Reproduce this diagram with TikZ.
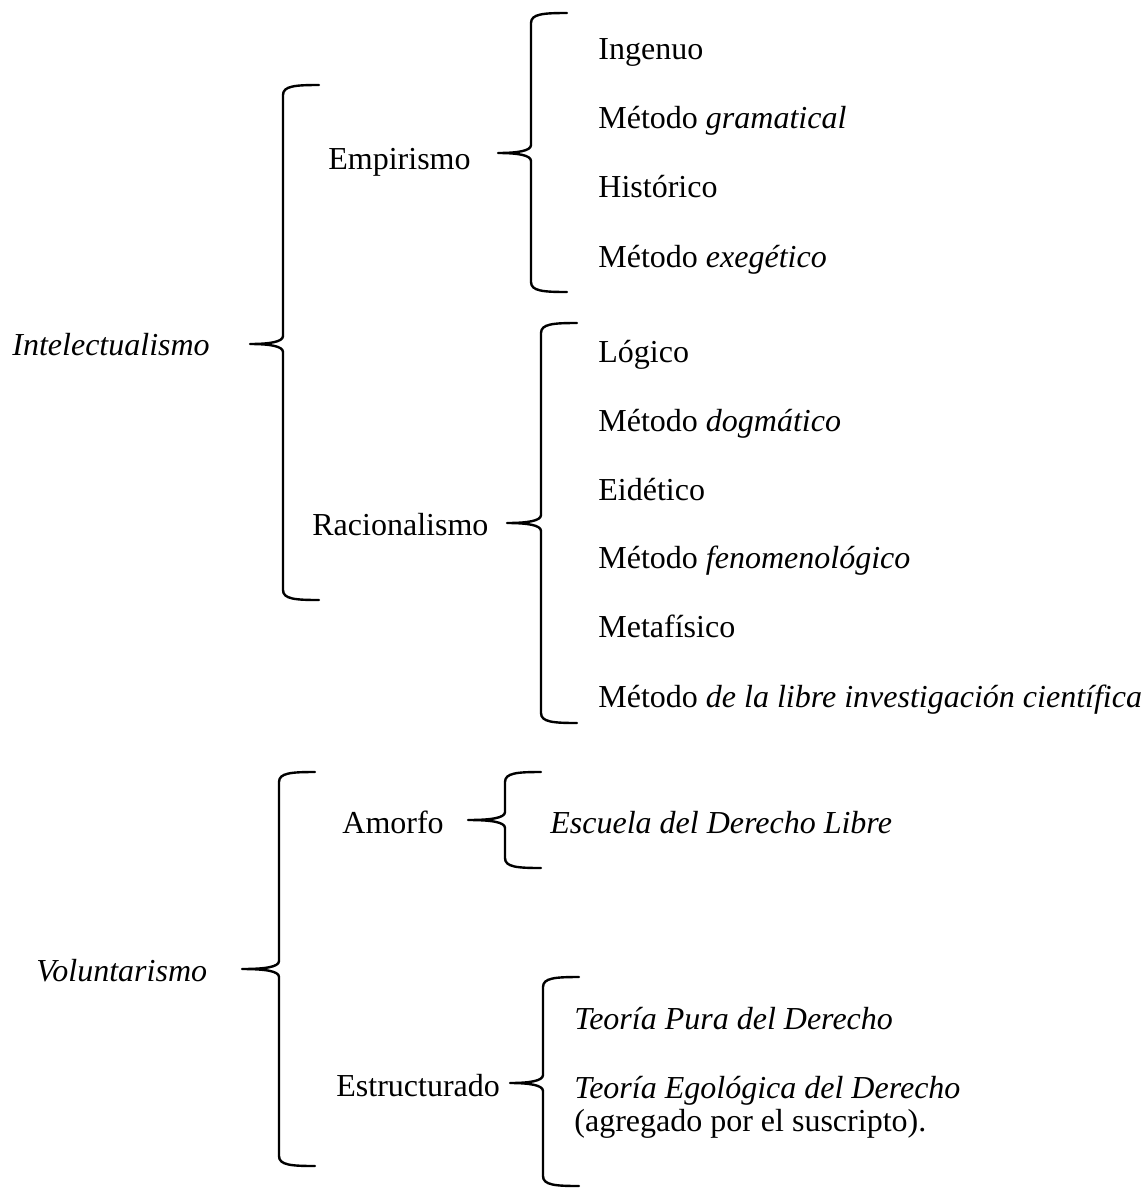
\documentclass[tikz,border=0pt]{standalone}
\usepackage{fontspec}
\setmainfont{Liberation Serif}
\usetikzlibrary{calc}
\pgfdeclarelayer{edgelayer}
\pgfdeclarelayer{nodelayer}
\pgfsetlayers{edgelayer,nodelayer,main}
\tikzset{x=0.5pt,y=-0.5pt,font=\fontsize{16}{19}\selectfont}
\tikzstyle{none}=[inner sep=0pt]
\tikzstyle{txt}=[inner sep=0pt,anchor=base west]
\tikzstyle{curly}=[line width=1.2pt,line join=round,line cap=round]

% brace: top arm end, tip, bottom arm end
\newcommand{\llave}[3]{%
  \draw[style=curly] let \p1=(#1), \p2=(#2), \p3=(#3) in
    (\p1) .. controls (\x1-12pt,\y1) and (\x1-18pt,\y1-0.5pt) .. (\x1-18pt,\y1-5pt)
    -- (\x1-18pt,\y2+4pt)
    .. controls (\x1-18pt,\y2+1pt) and (\x1-25pt,\y2) .. (\p2)
    .. controls (\x1-25pt,\y2) and (\x1-18pt,\y2-1pt) .. (\x1-18pt,\y2-4pt)
    -- (\x1-18pt,\y3+5pt)
    .. controls (\x1-18pt,\y3+0.5pt) and (\x1-12pt,\y3) .. (\p3);}

\begin{document}
\begin{tikzpicture}
	\useasboundingbox (0,0) rectangle (1146,1189);
	\begin{pgfonlayer}{nodelayer}
		\node [style=txt] (intel) at (12, 355) {\textit{Intelectualismo}};
		\node [style=txt] (empir) at (328, 169) {Empirismo};
		\node [style=txt] (racio) at (312, 535) {Racionalismo};
		\node [style=txt] (ingen) at (598, 59) {Ingenuo};
		\node [style=txt] (grama) at (598, 128) {Método \textit{gramatical}};
		\node [style=txt] (histo) at (598, 197) {Histórico};
		\node [style=txt] (exege) at (598, 267) {Método \textit{exegético}};
		\node [style=txt] (logic) at (598, 362) {Lógico};
		\node [style=txt] (dogma) at (598, 431) {Método \textit{dogmático}};
		\node [style=txt] (eidet) at (598, 500) {Eidético};
		\node [style=txt] (fenom) at (598, 568) {Método \textit{fenomenológico}};
		\node [style=txt] (metaf) at (598, 637) {Metafísico};
		\node [style=txt] (libre) at (598, 707) {Método \textit{de la libre investigación científica}};
		\node [style=txt] (volun) at (36, 981) {\textit{Voluntarismo}};
		\node [style=txt] (amorf) at (342, 833) {Amorfo};
		\node [style=txt] (escue) at (550, 833) {\textit{Escuela del Derecho Libre}};
		\node [style=txt] (estru) at (336, 1096) {Estructurado};
		\node [style=txt] (pura) at (574, 1029) {\textit{Teoría Pura del Derecho}};
		\node [style=txt] (egolo) at (574, 1098) {\textit{Teoría Egológica del Derecho}};
		\node [style=txt] (agreg) at (574, 1131) {(agregado por el suscripto).};
		% brace points
		\node [style=none] (0) at (319, 85) {};
		\node [style=none] (1) at (250, 344) {};
		\node [style=none] (2) at (319, 600) {};
		\node [style=none] (3) at (567, 13) {};
		\node [style=none] (4) at (498, 153) {};
		\node [style=none] (5) at (567, 292) {};
		\node [style=none] (6) at (577, 323) {};
		\node [style=none] (7) at (507, 523) {};
		\node [style=none] (8) at (577, 723) {};
		\node [style=none] (9) at (315, 772) {};
		\node [style=none] (10) at (242, 969) {};
		\node [style=none] (11) at (315, 1166) {};
		\node [style=none] (12) at (541, 772) {};
		\node [style=none] (13) at (468, 820) {};
		\node [style=none] (14) at (541, 868) {};
		\node [style=none] (15) at (579, 977) {};
		\node [style=none] (16) at (510, 1083) {};
		\node [style=none] (17) at (579, 1186) {};
	\end{pgfonlayer}
	\begin{pgfonlayer}{edgelayer}
		\llave{0}{1}{2}
		\llave{3}{4}{5}
		\llave{6}{7}{8}
		\llave{9}{10}{11}
		\llave{12}{13}{14}
		\llave{15}{16}{17}
	\end{pgfonlayer}
\end{tikzpicture}
\end{document}
